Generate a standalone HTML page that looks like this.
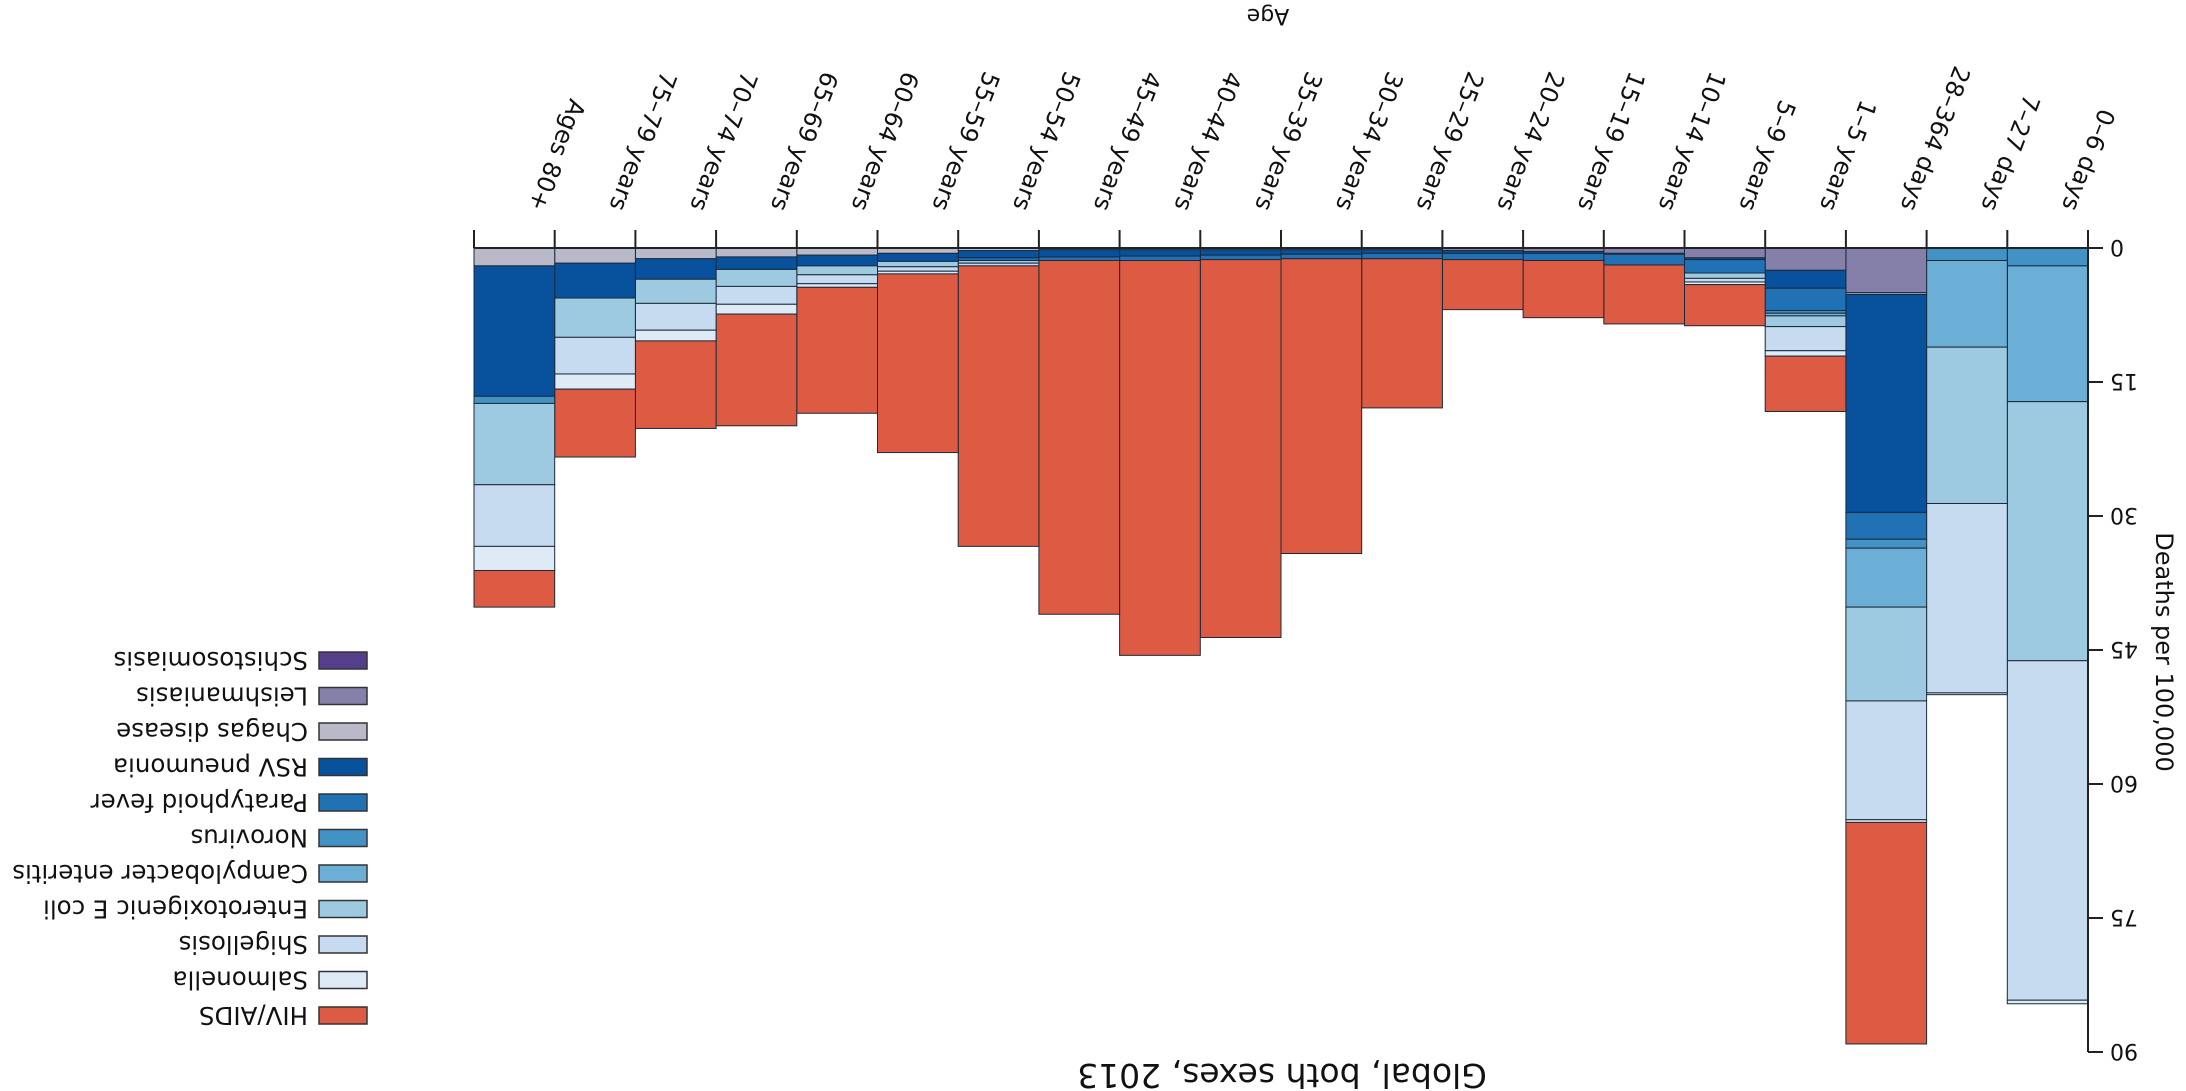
<!DOCTYPE html>
<html><head><meta charset="utf-8"><style>
html,body{margin:0;padding:0;background:#fff;}
svg{display:block;font-family:"DejaVu Sans","Liberation Sans",sans-serif;}
</style></head><body>
<svg id="chart" width="2186" height="1091" viewBox="0 0 2186 1091" xmlns="http://www.w3.org/2000/svg">
<g id="root" transform="rotate(180 1093 545.5)"></g>
</svg>
<script>
const categories = ["0–6 days","7–27 days","28–364 days","1–5 years","5–9 years","10–14 years","15–19 years","20–24 years","25–29 years","30–34 years","35–39 years","40–44 years","45–49 years","50–54 years","55–59 years","60–64 years","65–69 years","70–74 years","75–79 years","Ages 80+"];
const seriesNames = ["Schistosomiasis","Leishmaniasis","Chagas disease","RSV pneumonia","Paratyphoid fever","Norovirus","Campylobacter enteritis","Enterotoxigenic E coli","Shigellosis","Salmonella","HIV/AIDS"];
const schisto = [0,0,0,0,0,0,0,0,0,0,0,0,0,0,0,0,0,0,0,0];
const leish   = [0,0,5.0,2.5,1.1,0.6,0.4,0.3,0.2,0.2,0.2,0.2,0.2,0,0,0,0,0,0,0];
const chagas  = [0,0,0.2,0,0,0,0,0,0,0,0,0,0,0.3,0.6,0.8,1.0,1.2,1.7,2.0];
const rsv     = [0,0,24.4,2.0,0.2,0.1,0.2,0.3,0.4,0.5,0.6,0.7,0.8,0.8,0.9,1.2,1.4,2.3,3.9,14.6];
const para    = [0,0,3.0,2.5,1.5,1.2,0.8,0.7,0.6,0.5,0.5,0.5,0.4,0.3,0,0,0,0,0,0];
const noro    = [2.0,1.4,1.0,0.3,0,0,0,0,0,0,0,0,0,0,0,0,0,0,0,0.8];
const campy   = [15.2,9.7,6.6,0.3,0,0,0,0,0,0,0,0,0,0,0,0,0,0,0,0];
const etec    = [29.0,17.5,10.5,1.2,0.6,0,0,0,0,0,0,0,0,0.3,0.6,1.0,1.9,2.7,4.4,9.1];
const shig    = [38.0,21.2,13.3,2.7,0.4,0,0,0,0,0,0,0,0,0.3,0.5,1.0,2.0,3.0,4.1,6.9];
const salm    = [0.4,0.2,0.3,0.6,0.3,0,0,0,0,0,0,0,0,0,0.3,0.4,1.1,1.2,1.7,2.7];
const hiv     = [0,0,24.8,6.2,4.6,6.6,6.4,5.6,16.7,33.0,42.3,44.2,39.6,31.4,20.0,14.1,12.5,9.8,7.6,4.1];
const yTicks = [0,15,30,45,60,75,90];
const series = [schisto,leish,chagas,rsv,para,noro,campy,etec,shig,salm,hiv];
const colors = ["#54408a","#8580aa","#b9b9c9","#08519c","#2171b5","#4292c6","#6baed6","#9ecae1","#c6dbef","#deebf7","#dd5a43"];
const NS="http://www.w3.org/2000/svg";
const root=document.getElementById('root');
const X0=98, X1=1712, Y0=843, YMAX=90, YTOP=39;
const bw=(X1-X0)/categories.length;
function xScale(i){return X0+i*bw;}
function yScale(v){return Y0-v*(Y0-YTOP)/YMAX;}
function mk(tag,attrs,parent){const e=document.createElementNS(NS,tag);for(const k in attrs)e.setAttribute(k,attrs[k]);(parent||root).appendChild(e);return e;}
categories.forEach((c,i)=>{
  let acc=0;
  const g=mk('g',{});
  
  
  series.forEach((arr,s)=>{
    const v=arr[i]; if(!v) return;
    const yTop=yScale(acc+v), yBot=yScale(acc);
    const r=mk('rect',{x:xScale(i),y:yTop,width:bw,height:yBot-yTop,fill:colors[s],stroke:'#1a2a3a','stroke-width':1},g);
    
    
    acc+=v;
  });
});
const xa=mk('line',{x1:X0,y1:Y0,x2:X1,y2:Y0,stroke:'#222','stroke-width':2});


for(let i=0;i<=categories.length;i++){
  const t=mk('line',{x1:xScale(i),y1:Y0,x2:xScale(i),y2:Y0+18,stroke:'#222','stroke-width':2});
  
  
}
categories.forEach((c,i)=>{
  const cx=xScale(i)+bw/2-14, cy=Y0+41;
  const t=mk('text',{x:cx,y:cy,'text-anchor':'end','font-size':24,fill:'#111',transform:`rotate(-69 ${cx} ${cy})`});
  t.textContent=c;
  
  
});
const ya=mk('line',{x1:X0,y1:Y0,x2:X0,y2:YTOP,stroke:'#222','stroke-width':2});


yTicks.forEach(v=>{
  const y=yScale(v);
  const l=mk('line',{x1:X0,y1:y,x2:X0-15,y2:y,stroke:'#222','stroke-width':2});
  
  
  const t=mk('text',{x:X0-22,y:y+8,'text-anchor':'end','font-size':22,fill:'#111'});
  t.textContent=v;
  
  
});
const yt=mk('text',{x:30,y:439,'text-anchor':'middle','font-size':24,fill:'#111',transform:'rotate(-90 30 439)'});
yt.textContent='Deaths per 100,000';


const xt=mk('text',{x:918,y:1082,'text-anchor':'middle','font-size':22,fill:'#111'});
xt.textContent='Age';


const tt=mk('text',{x:904,y:27,'text-anchor':'middle','font-size':33,fill:'#111'});
tt.textContent='Global, both sexes, 2013';


for(let k=0;k<seriesNames.length;k++){
  const s=seriesNames.length-1-k;
  const y=67+k*35.5;
  const g=mk('g',{});
  
  
  mk('rect',{x:1819,y:y,width:48,height:17,fill:colors[s],stroke:'#333','stroke-width':1.5},g);
  const t=mk('text',{x:1878,y:y+17,'font-size':24.5,fill:'#111'},g);
  t.textContent=seriesNames[s];
}
</script>
</body></html>
